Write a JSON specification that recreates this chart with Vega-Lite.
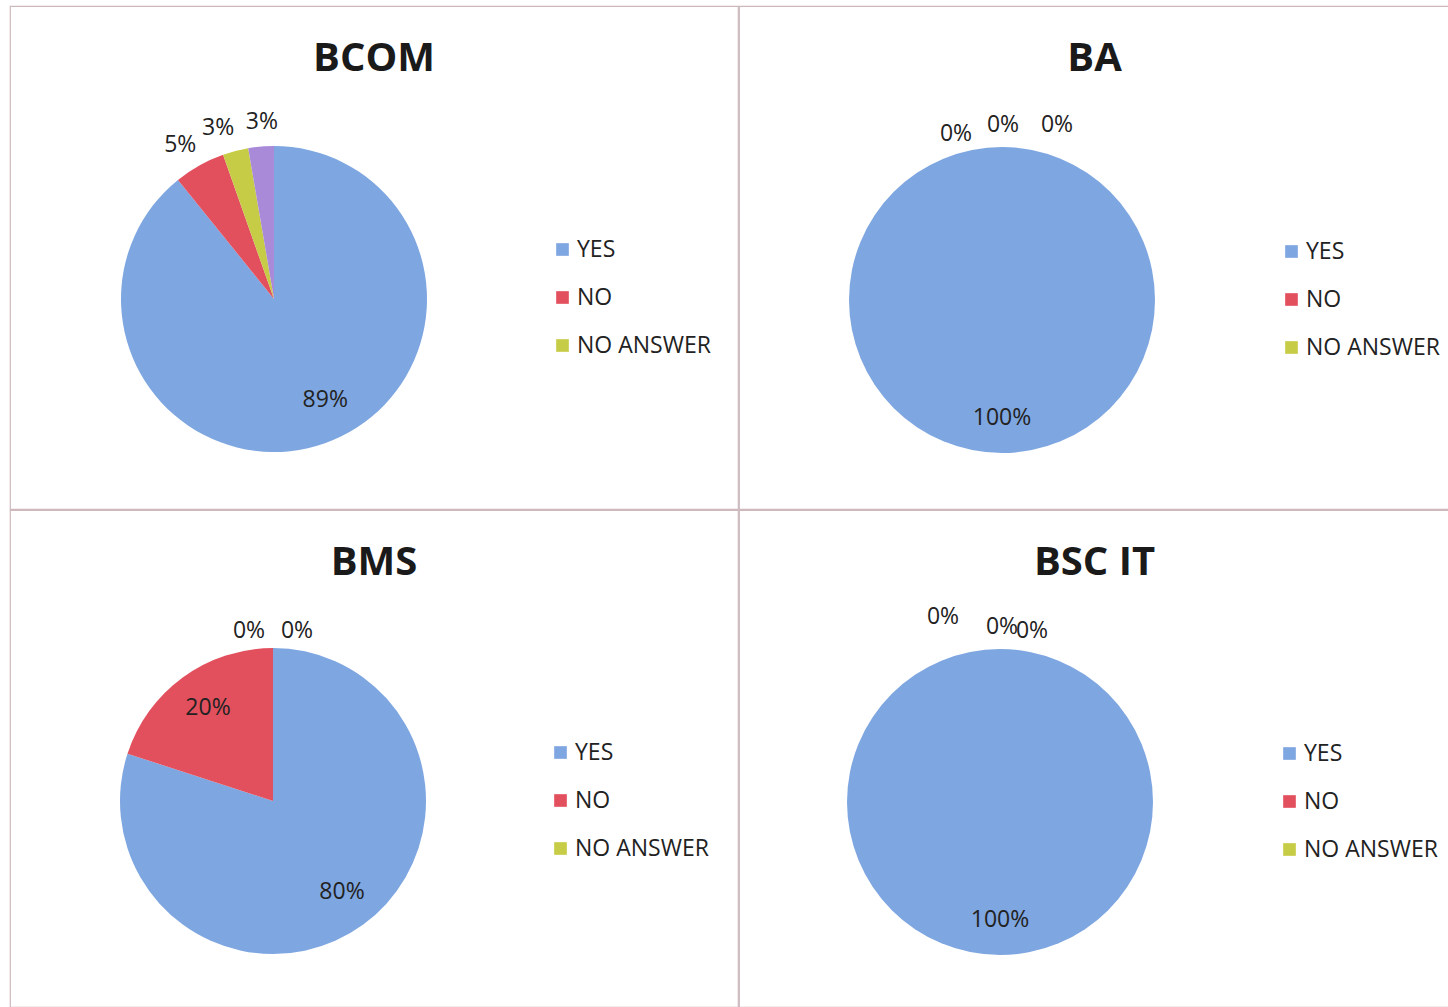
{
  "$schema": "https://vega.github.io/schema/vega-lite/v6.json",
  "background": "white",
  "padding": {"left": 9, "top": 5, "right": 0, "bottom": 0},
  "spacing": -2,
  "config": {
    "font": "Open Sans",
    "view": {"stroke": "#cdb8bd", "strokeWidth": 1.2},
    "style": {"cell": {"stroke": "#cdb8bd", "strokeWidth": 1.2}},
    "concat": {"spacing": -2},
    "title": {"font": "Open Sans", "fontSize": 40, "fontWeight": "bold", "color": "#1a1a1a", "anchor": "middle", "offset": -73, "baseline": "alphabetic"},
    "legend": {"labelFont": "Open Sans", "labelFontSize": 23, "labelColor": "#222222", "symbolType": "square", "symbolSize": 160, "symbolStrokeWidth": 0, "rowPadding": 24, "labelOffset": 3, "labelLimit": 300, "title": null}
  },
  "datasets": {
    "pies": [
      {"panel": "BCOM", "category": "YES", "k": 1, "value": 0.892},
      {"panel": "BCOM", "category": "NO", "k": 2, "value": 0.054},
      {"panel": "BCOM", "category": "NO ANSWER", "k": 3, "value": 0.027},
      {"panel": "BCOM", "category": "BLANK", "k": 4, "value": 0.027},
      {"panel": "BA", "category": "YES", "k": 1, "value": 1.0},
      {"panel": "BA", "category": "NO", "k": 2, "value": 0},
      {"panel": "BA", "category": "NO ANSWER", "k": 3, "value": 0},
      {"panel": "BA", "category": "BLANK", "k": 4, "value": 0},
      {"panel": "BMS", "category": "YES", "k": 1, "value": 0.8},
      {"panel": "BMS", "category": "NO", "k": 2, "value": 0.2},
      {"panel": "BMS", "category": "NO ANSWER", "k": 3, "value": 0},
      {"panel": "BMS", "category": "BLANK", "k": 4, "value": 0},
      {"panel": "BSC IT", "category": "YES", "k": 1, "value": 1.0},
      {"panel": "BSC IT", "category": "NO", "k": 2, "value": 0},
      {"panel": "BSC IT", "category": "NO ANSWER", "k": 3, "value": 0},
      {"panel": "BSC IT", "category": "BLANK", "k": 4, "value": 0}
    ]
  },
  "resolve": {"legend": {"color": "independent"}, "scale": {"color": "independent", "theta": "independent"}},
  "vconcat": [
    {
      "spacing": -2,
      "hconcat": [
        {
          "data": {"name": "pies"},
          "transform": [{"filter": "datum.panel == 'BCOM'"}],
          "title": {"text": "BCOM"},
          "width": 728, "height": 503,
          "view": {"stroke": "#cdb8bd", "strokeWidth": 1.2},
          "encoding": {
            "theta": {"field": "value", "type": "quantitative", "stack": true},
            "order": {"field": "k", "type": "quantitative"},
            "color": {"field": "category", "type": "nominal",
              "scale": {"domain": ["YES", "NO", "NO ANSWER", "BLANK"], "range": ["#7ea6e0", "#e2505e", "#c6cc46", "#a98ad8"]},
              "legend": {"values": ["YES", "NO", "NO ANSWER"], "orient": "none", "legendX": 541, "legendY": 232}}
          },
          "layer": [
            {"mark": {"type": "arc", "outerRadius": 153, "x": 264, "y": 293}},
            {"mark": {"type": "text", "radius": 115, "x": 264, "y": 293, "dx": 13, "dy": -7, "fontSize": 23, "font": "Open Sans"},
             "encoding": {"color": {"value": "#222222"}, "text": {"condition": {"test": "datum.value >= 0.1", "field": "value", "format": ".0%"}, "value": ""}}},
            {"mark": {"type": "text", "radius": 178, "x": 264, "y": 293, "dx": -7, "dy": 1, "fontSize": 23, "font": "Open Sans"},
             "encoding": {"color": {"value": "#222222"}, "text": {"condition": {"test": "datum.category == 'NO'", "field": "value", "format": ".0%"}, "value": ""}}},
            {"mark": {"type": "text", "radius": 178, "x": 264, "y": 293, "dx": -11, "dy": 1, "fontSize": 23, "font": "Open Sans"},
             "encoding": {"color": {"value": "#222222"}, "text": {"condition": {"test": "datum.category == 'NO ANSWER'", "field": "value", "format": ".0%"}, "value": ""}}},
            {"mark": {"type": "text", "radius": 178, "x": 264, "y": 293, "dx": 3, "dy": 0, "fontSize": 23, "font": "Open Sans"},
             "encoding": {"color": {"value": "#222222"}, "text": {"condition": {"test": "datum.category == 'BLANK'", "field": "value", "format": ".0%"}, "value": ""}}}
          ]
        },
        {
          "data": {"name": "pies"},
          "transform": [{"filter": "datum.panel == 'BA'"}],
          "title": {"text": "BA"},
          "width": 711, "height": 503,
          "view": {"stroke": "#cdb8bd", "strokeWidth": 1.2},
          "encoding": {
            "theta": {"field": "value", "type": "quantitative", "stack": true},
            "order": {"field": "k", "type": "quantitative"},
            "color": {"field": "category", "type": "nominal",
              "scale": {"domain": ["YES", "NO", "NO ANSWER", "BLANK"], "range": ["#7ea6e0", "#e2505e", "#c6cc46", "#a98ad8"]},
              "legend": {"values": ["YES", "NO", "NO ANSWER"], "orient": "none", "legendX": 541, "legendY": 234}}
          },
          "layer": [
            {"mark": {"type": "arc", "outerRadius": 153, "x": 263, "y": 294}},
            {"mark": {"type": "text", "radius": 118, "x": 263, "y": 294, "fontSize": 23, "font": "Open Sans"},
             "encoding": {"color": {"value": "#222222"}, "text": {"condition": {"test": "datum.value >= 0.1", "field": "value", "format": ".0%"}, "value": ""}}},
            {"mark": {"type": "text", "radius": 170, "x": 263, "y": 294, "dx": -46, "dy": 4, "fontSize": 23, "font": "Open Sans"},
             "encoding": {"color": {"value": "#222222"}, "text": {"condition": {"test": "datum.category == 'NO'", "field": "value", "format": ".0%"}, "value": ""}}},
            {"mark": {"type": "text", "radius": 170, "x": 263, "y": 294, "dx": 1, "dy": -5, "fontSize": 23, "font": "Open Sans"},
             "encoding": {"color": {"value": "#222222"}, "text": {"condition": {"test": "datum.category == 'NO ANSWER'", "field": "value", "format": ".0%"}, "value": ""}}},
            {"mark": {"type": "text", "radius": 170, "x": 263, "y": 294, "dx": 55, "dy": -5, "fontSize": 23, "font": "Open Sans"},
             "encoding": {"color": {"value": "#222222"}, "text": {"condition": {"test": "datum.category == 'BLANK'", "field": "value", "format": ".0%"}, "value": ""}}}
          ]
        }
      ],
      "resolve": {"legend": {"color": "independent"}, "scale": {"color": "independent", "theta": "independent"}}
    },
    {
      "spacing": -2,
      "hconcat": [
        {
          "data": {"name": "pies"},
          "transform": [{"filter": "datum.panel == 'BMS'"}],
          "title": {"text": "BMS"},
          "width": 728, "height": 497,
          "view": {"stroke": "#cdb8bd", "strokeWidth": 1.2},
          "encoding": {
            "theta": {"field": "value", "type": "quantitative", "stack": true},
            "order": {"field": "k", "type": "quantitative"},
            "color": {"field": "category", "type": "nominal",
              "scale": {"domain": ["YES", "NO", "NO ANSWER", "BLANK"], "range": ["#7ea6e0", "#e2505e", "#c6cc46", "#a98ad8"]},
              "legend": {"values": ["YES", "NO", "NO ANSWER"], "orient": "none", "legendX": 539, "legendY": 231}}
          },
          "layer": [
            {"mark": {"type": "arc", "outerRadius": 153, "x": 263, "y": 291}},
            {"mark": {"type": "text", "radius": 114, "x": 263, "y": 291, "dx": 2, "dy": -1, "fontSize": 23, "font": "Open Sans"},
             "encoding": {"color": {"value": "#222222"}, "text": {"condition": {"test": "datum.value >= 0.1", "field": "value", "format": ".0%"}, "value": ""}}},
            {"mark": {"type": "text", "radius": 170, "x": 263, "y": 291, "dx": -24, "fontSize": 23, "font": "Open Sans"},
             "encoding": {"color": {"value": "#222222"}, "text": {"condition": {"test": "datum.category == 'NO ANSWER'", "field": "value", "format": ".0%"}, "value": ""}}},
            {"mark": {"type": "text", "radius": 170, "x": 263, "y": 291, "dx": 24, "fontSize": 23, "font": "Open Sans"},
             "encoding": {"color": {"value": "#222222"}, "text": {"condition": {"test": "datum.category == 'BLANK'", "field": "value", "format": ".0%"}, "value": ""}}}
          ]
        },
        {
          "data": {"name": "pies"},
          "transform": [{"filter": "datum.panel == 'BSC IT'"}],
          "title": {"text": "BSC IT"},
          "width": 711, "height": 497,
          "view": {"stroke": "#cdb8bd", "strokeWidth": 1.2},
          "encoding": {
            "theta": {"field": "value", "type": "quantitative", "stack": true},
            "order": {"field": "k", "type": "quantitative"},
            "color": {"field": "category", "type": "nominal",
              "scale": {"domain": ["YES", "NO", "NO ANSWER", "BLANK"], "range": ["#7ea6e0", "#e2505e", "#c6cc46", "#a98ad8"]},
              "legend": {"values": ["YES", "NO", "NO ANSWER"], "orient": "none", "legendX": 539, "legendY": 232}}
          },
          "layer": [
            {"mark": {"type": "arc", "outerRadius": 153, "x": 261, "y": 292}},
            {"mark": {"type": "text", "radius": 118, "x": 261, "y": 292, "fontSize": 23, "font": "Open Sans"},
             "encoding": {"color": {"value": "#222222"}, "text": {"condition": {"test": "datum.value >= 0.1", "field": "value", "format": ".0%"}, "value": ""}}},
            {"mark": {"type": "text", "radius": 170, "x": 261, "y": 292, "dx": -57, "dy": -15, "fontSize": 23, "font": "Open Sans"},
             "encoding": {"color": {"value": "#222222"}, "text": {"condition": {"test": "datum.category == 'NO'", "field": "value", "format": ".0%"}, "value": ""}}},
            {"mark": {"type": "text", "radius": 170, "x": 261, "y": 292, "dx": 2, "dy": -5, "fontSize": 23, "font": "Open Sans"},
             "encoding": {"color": {"value": "#222222"}, "text": {"condition": {"test": "datum.category == 'NO ANSWER'", "field": "value", "format": ".0%"}, "value": ""}}},
            {"mark": {"type": "text", "radius": 170, "x": 261, "y": 292, "dx": 32, "dy": -1, "fontSize": 23, "font": "Open Sans"},
             "encoding": {"color": {"value": "#222222"}, "text": {"condition": {"test": "datum.category == 'BLANK'", "field": "value", "format": ".0%"}, "value": ""}}}
          ]
        }
      ],
      "resolve": {"legend": {"color": "independent"}, "scale": {"color": "independent", "theta": "independent"}}
    }
  ]
}
